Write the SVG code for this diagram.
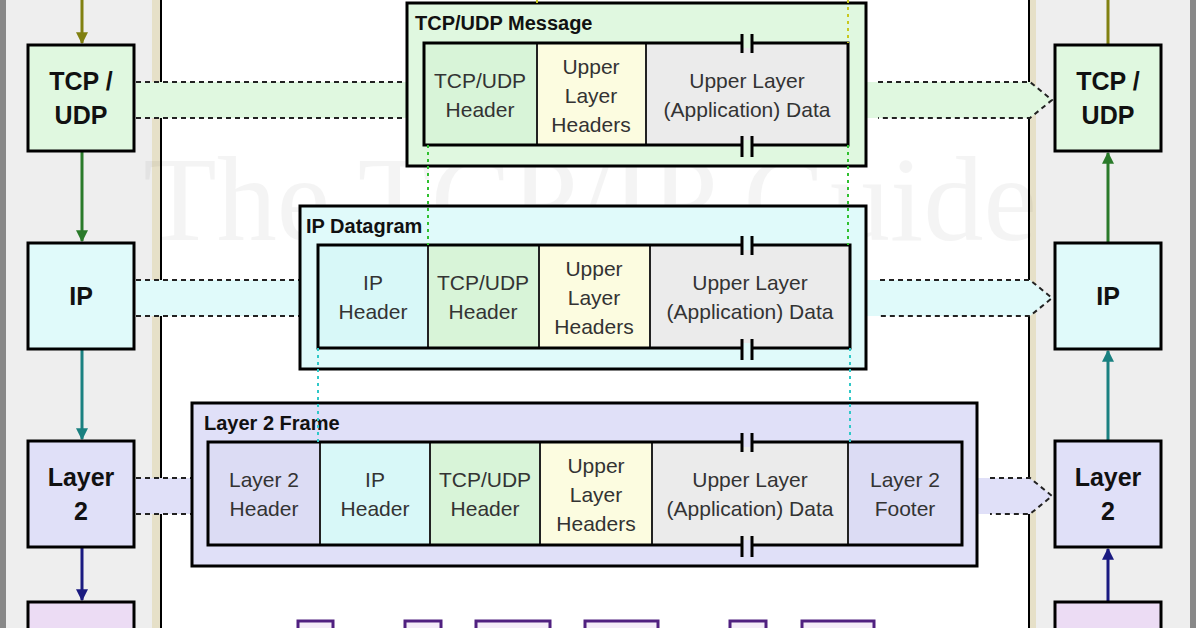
<svg xmlns="http://www.w3.org/2000/svg" width="1196" height="628" viewBox="0 0 1196 628">
<defs>
<style>
.node{stroke:#000;stroke-width:3}
.nt{font-family:"Liberation Sans",Arial,sans-serif;font-weight:bold;font-size:25px;text-anchor:middle;fill:#111}
.ct{font-family:"Liberation Sans",Arial,sans-serif;font-size:21px;text-anchor:middle;fill:#333}
.tt{font-family:"Liberation Sans",Arial,sans-serif;font-weight:bold;font-size:20px;fill:#111}
.cell{stroke:#222;stroke-width:2}
.outer{stroke:#000;stroke-width:3}
.dash{stroke:#222;stroke-width:2;stroke-dasharray:5,4;fill:none}
.brk{stroke:#000;stroke-width:3}
</style>
<marker id="ah" viewBox="0 0 10 10" refX="9" refY="5" markerWidth="4" markerHeight="4" orient="auto"><path d="M0,0L10,5L0,10z" fill="context-stroke"/></marker>
<marker id="ao" viewBox="0 0 10 10" refX="9" refY="5" markerWidth="4" markerHeight="4" orient="auto"><path d="M0,0L10,5L0,10z" fill="#808010"/></marker>
<marker id="ag" viewBox="0 0 10 10" refX="9" refY="5" markerWidth="4" markerHeight="4" orient="auto"><path d="M0,0L10,5L0,10z" fill="#2a7a2a"/></marker>
<marker id="at" viewBox="0 0 10 10" refX="9" refY="5" markerWidth="4" markerHeight="4" orient="auto"><path d="M0,0L10,5L0,10z" fill="#1a8080"/></marker>
<marker id="an" viewBox="0 0 10 10" refX="9" refY="5" markerWidth="4" markerHeight="4" orient="auto"><path d="M0,0L10,5L0,10z" fill="#1a1a80"/></marker>
</defs>
<rect width="1196" height="628" fill="#fff"/>
<rect x="0" y="0" width="6" height="628" fill="#888"/>
<rect x="1190" y="0" width="6" height="628" fill="#888"/>
<rect x="6" y="0" width="146" height="628" fill="#eeeeee"/>
<rect x="152" y="0" width="8" height="628" fill="#e6e0c8"/>
<rect x="1036" y="0" width="154" height="628" fill="#eeeeee"/>
<rect x="1030" y="0" width="6" height="628" fill="#e6e0c8"/>
<line x1="161" y1="0" x2="161" y2="628" stroke="#000" stroke-width="2"/>
<line x1="1029" y1="0" x2="1029" y2="628" stroke="#000" stroke-width="2"/>
<text x="590" y="240" font-family="Liberation Serif,serif" font-size="120" text-anchor="middle" fill="#000" opacity="0.04">The TCP/IP Guide</text>

<g id="connectors">
<line x1="82" y1="0" x2="82" y2="43" stroke="#808010" stroke-width="3" marker-end="url(#ao)"/>
<line x1="82" y1="151" x2="82" y2="241" stroke="#2a7a2a" stroke-width="3" marker-end="url(#ag)"/>
<line x1="82" y1="349" x2="82" y2="439" stroke="#1a8080" stroke-width="3" marker-end="url(#at)"/>
<line x1="82" y1="547" x2="82" y2="600" stroke="#1a1a80" stroke-width="3" marker-end="url(#an)"/>
<line x1="1108" y1="45" x2="1108" y2="0" stroke="#808010" stroke-width="3"/>
<line x1="1108" y1="243" x2="1108" y2="153" stroke="#2a7a2a" stroke-width="3" marker-end="url(#ag)"/>
<line x1="1108" y1="441" x2="1108" y2="351" stroke="#1a8080" stroke-width="3" marker-end="url(#at)"/>
<line x1="1108" y1="602" x2="1108" y2="549" stroke="#1a1a80" stroke-width="3" marker-end="url(#an)"/>
<!-- bands -->
<rect x="136" y="82" width="271" height="36" fill="#e0f8e0"/>
<path class="dash" d="M136,82H407M136,118H407"/>
<path d="M866,82H1030L1052,100L1030,118H866Z" fill="#e0f8e0"/>
<path class="dash" d="M878,82H1030L1052,100L1030,118H878"/>
<rect x="136" y="280" width="164" height="36" fill="#e0fafa"/>
<path class="dash" d="M136,280H300M136,316H300"/>
<path d="M866,280H1030L1052,298L1030,316H866Z" fill="#e0fafa"/>
<path class="dash" d="M880,280H1030L1052,298L1030,316H880"/>
<rect x="136" y="478" width="56" height="36" fill="#e0e0f8"/>
<path class="dash" d="M136,478H192M136,514H192"/>
<path d="M977,478H1030L1052,496L1030,514H977Z" fill="#e0e0f8"/>
<path class="dash" d="M990,478H1030L1052,496L1030,514H990"/>
</g>

<g id="node-tcp-left"><rect class="node" x="28" y="45" width="106" height="106" fill="#e0f8e0"/><text class="nt" x="81" y="90">TCP /</text><text class="nt" x="81" y="124">UDP</text></g>
<g id="node-ip-left"><rect class="node" x="28" y="243" width="106" height="106" fill="#e0fafa"/><text class="nt" x="81" y="305">IP</text></g>
<g id="node-l2-left"><rect class="node" x="28" y="441" width="106" height="106" fill="#e0e0f8"/><text class="nt" x="81" y="486">Layer</text><text class="nt" x="81" y="520">2</text></g>
<g id="node-phy-left"><rect class="node" x="28" y="602" width="106" height="40" fill="#ecdcf4"/></g>
<g id="node-tcp-right"><rect class="node" x="1055" y="45" width="106" height="106" fill="#e0f8e0"/><text class="nt" x="1108" y="90">TCP /</text><text class="nt" x="1108" y="124">UDP</text></g>
<g id="node-ip-right"><rect class="node" x="1055" y="243" width="106" height="106" fill="#e0fafa"/><text class="nt" x="1108" y="305">IP</text></g>
<g id="node-l2-right"><rect class="node" x="1055" y="441" width="106" height="106" fill="#e0e0f8"/><text class="nt" x="1108" y="486">Layer</text><text class="nt" x="1108" y="520">2</text></g>
<g id="node-phy-right"><rect class="node" x="1055" y="602" width="106" height="40" fill="#ecdcf4"/></g>

<g id="tcp-message">
<rect class="outer" x="407" y="3" width="459" height="163" fill="#e0f8e0"/>
<text class="tt" x="415" y="30">TCP/UDP Message</text>
<rect class="cell" x="424" y="43" width="113" height="102" fill="#d8f4d8"/>
<rect class="cell" x="537" y="43" width="109" height="102" fill="#fcfce0"/>
<rect class="cell" x="646" y="43" width="202" height="102" fill="#ebebeb"/>
<rect x="424" y="43" width="424" height="102" fill="none" stroke="#000" stroke-width="3"/>
<text class="ct" x="480" y="88">TCP/UDP</text><text class="ct" x="480" y="117">Header</text>
<text class="ct" x="591" y="74">Upper</text><text class="ct" x="591" y="103">Layer</text><text class="ct" x="591" y="132">Headers</text>
<text class="ct" x="747" y="88">Upper Layer</text><text class="ct" x="747" y="117">(Application) Data</text>
<rect x="743" y="38" width="8" height="10" fill="#e0f8e0"/><rect x="743" y="140" width="8" height="12" fill="#e0f8e0"/>
<path class="brk" d="M742,34V53M752,34V53M742,136V157M752,136V157"/>
</g>

<g id="ip-datagram">
<rect class="outer" x="300" y="206" width="566" height="163" fill="#e0fafa"/>
<text class="tt" x="306" y="233">IP Datagram</text>
<rect class="cell" x="318" y="245" width="110" height="103" fill="#d8f8f8"/>
<rect class="cell" x="428" y="245" width="111" height="103" fill="#d8f4d8"/>
<rect class="cell" x="539" y="245" width="111" height="103" fill="#fcfce0"/>
<rect class="cell" x="650" y="245" width="200" height="103" fill="#ebebeb"/>
<rect x="318" y="245" width="532" height="103" fill="none" stroke="#000" stroke-width="3"/>
<text class="ct" x="373" y="290">IP</text><text class="ct" x="373" y="319">Header</text>
<text class="ct" x="483" y="290">TCP/UDP</text><text class="ct" x="483" y="319">Header</text>
<text class="ct" x="594" y="276">Upper</text><text class="ct" x="594" y="305">Layer</text><text class="ct" x="594" y="334">Headers</text>
<text class="ct" x="750" y="290">Upper Layer</text><text class="ct" x="750" y="319">(Application) Data</text>
<rect x="743" y="240" width="8" height="10" fill="#e0fafa"/><rect x="743" y="343" width="8" height="12" fill="#e0fafa"/>
<path class="brk" d="M742,236V255M752,236V255M742,339V360M752,339V360"/>
</g>

<g id="layer2-frame">
<rect class="outer" x="192" y="403" width="785" height="163" fill="#e0e0f8"/>
<text class="tt" x="204" y="430">Layer 2 Frame</text>
<rect class="cell" x="208" y="442" width="112" height="103" fill="#dcdcf4"/>
<rect class="cell" x="320" y="442" width="110" height="103" fill="#d8f8f8"/>
<rect class="cell" x="430" y="442" width="110" height="103" fill="#d8f4d8"/>
<rect class="cell" x="540" y="442" width="112" height="103" fill="#fcfce0"/>
<rect class="cell" x="652" y="442" width="196" height="103" fill="#ebebeb"/>
<rect class="cell" x="848" y="442" width="114" height="103" fill="#dcdcf4"/>
<rect x="208" y="442" width="754" height="103" fill="none" stroke="#000" stroke-width="3"/>
<text class="ct" x="264" y="487">Layer 2</text><text class="ct" x="264" y="516">Header</text>
<text class="ct" x="375" y="487">IP</text><text class="ct" x="375" y="516">Header</text>
<text class="ct" x="485" y="487">TCP/UDP</text><text class="ct" x="485" y="516">Header</text>
<text class="ct" x="596" y="473">Upper</text><text class="ct" x="596" y="502">Layer</text><text class="ct" x="596" y="531">Headers</text>
<text class="ct" x="750" y="487">Upper Layer</text><text class="ct" x="750" y="516">(Application) Data</text>
<text class="ct" x="905" y="487">Layer 2</text><text class="ct" x="905" y="516">Footer</text>
<rect x="743" y="437" width="8" height="10" fill="#e0e0f8"/><rect x="743" y="540" width="8" height="12" fill="#e0e0f8"/>
<path class="brk" d="M742,433V452M752,433V452M742,536V557M752,536V557"/>
</g>

<g id="guides" fill="none" stroke-width="2" stroke-dasharray="3,4">
<path d="M537,0V3M848,0V43" stroke="#c8c820"/>
<path d="M428,145V245M848,145V245" stroke="#30c030"/>
<path d="M318,348V442M850,348V442" stroke="#30c8c8"/>
</g>

<g id="bottom-boxes" fill="#f4ecf8" stroke="#502080" stroke-width="3">
<rect x="298" y="621" width="35" height="12"/><rect x="405" y="621" width="36" height="12"/>
<rect x="476" y="621" width="74" height="12"/><rect x="585" y="621" width="73" height="12"/>
<rect x="730" y="621" width="36" height="12"/><rect x="802" y="621" width="72" height="12"/>
</g>
</svg>
